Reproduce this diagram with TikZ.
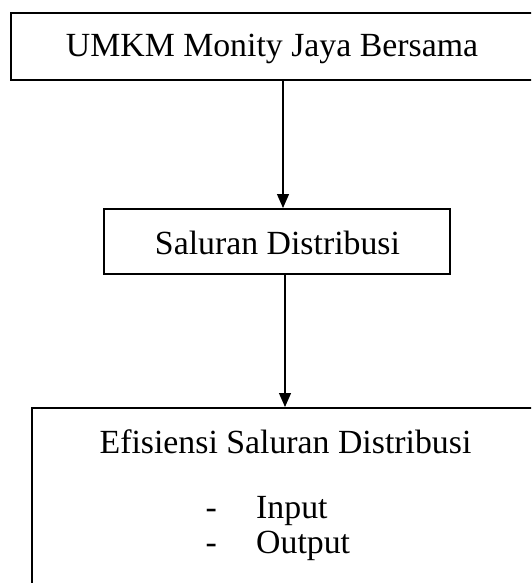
\documentclass[tikz,border=0pt]{standalone}
\usepackage{fontspec}
\setmainfont{Liberation Serif}
\usetikzlibrary{arrows.meta}
\begin{document}
\begin{tikzpicture}[x=1pt,y=-1pt,
  boxx/.style={draw=black,line width=2pt,fill=none,inner sep=0pt},
  lbl/.style={inner sep=0pt,anchor=base,font=\fontsize{33.8}{40}\selectfont},
  lblw/.style={inner sep=0pt,anchor=base west,font=\fontsize{33.8}{40}\selectfont},
  arr/.style={line width=1.2pt,-{Triangle[width=12pt,length=14pt]}}]
\clip (0,0) rectangle (531,583);
\fill[white] (0,0) rectangle (531,583);
% boxes
\node[boxx,minimum width=522pt,minimum height=67pt] (top) at (272,46.5) {};
\node[boxx,minimum width=346pt,minimum height=65pt] (mid) at (277,241.5) {};
\node[boxx,minimum width=507pt,minimum height=200pt] (bot) at (285.5,508) {};
% texts
\node[lbl] (ttop) at (272,56.7) {UMKM Monity Jaya Bersama};
\node[lbl] (tmid) at (277.5,254.3) {Saluran Distribusi};
\node[lbl] (tbot) at (285.5,453.3) {Efisiensi Saluran Distribusi};
\node[lblw] (d1) at (205.5,518) {-};
\node[lblw] (i1) at (256,518) {Input};
\node[lblw] (d2) at (205.5,553.3) {-};
\node[lblw] (o1) at (256,553.3) {Output};
% connector columns
\coordinate (c1) at (283,0);
\coordinate (c2) at (285,0);
\draw[arr] (top.south -| c1) -- (mid.north -| c1);
\draw[arr] (mid.south -| c2) -- (bot.north -| c2);
\end{tikzpicture}
\end{document}
